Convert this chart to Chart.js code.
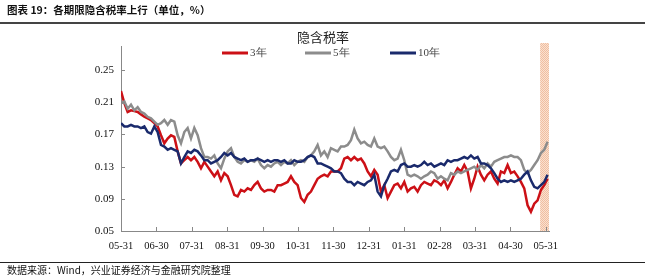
<!DOCTYPE html>
<html>
<head>
<meta charset="utf-8">
<script src="https://cdn.jsdelivr.net/npm/chart.js@4/dist/chart.umd.min.js"></script>
<style>
  html, body { margin: 0; padding: 0; background: #fff; }
  #wrap { position: relative; width: 645px; height: 277px; overflow: hidden; background: #fff; }
  #c { position: absolute; left: 0; top: 0; }
  #hdr { position: absolute; left: 7px; top: 2px; font: bold 10.5px "Noto Sans CJK SC", sans-serif; color: #111; white-space: nowrap; line-height: 15px; }
  #hdrLine { position: absolute; left: 0; top: 22px; width: 645px; height: 0; border-top: 2px solid #444; }
  #ftrLine { position: absolute; left: 0; top: 262px; width: 645px; height: 0; border-top: 1px solid #222; }
  #ftr { position: absolute; left: 7px; top: 263px; font: 10px "Noto Sans CJK SC", sans-serif; color: #111; white-space: nowrap; line-height: 13px; }
</style>
</head>
<body>
<div id="wrap">
  <canvas id="c" width="645" height="277"></canvas>
  <div id="hdr">图表 19：各期限隐含税率上行（单位，%）</div>
  <div id="hdrLine"></div>
  <div id="ftrLine"></div>
  <div id="ftr">数据来源：Wind，兴业证券经济与金融研究院整理</div>
</div>
<script>
// ---- data ----
const chartTitle = "隐含税率";
const seriesNames = ["3年", "5年", "10年"];
const xTickLabels = ["05-31","06-30","07-31","08-31","09-30","10-31","11-30","12-31","01-31","02-28","03-31","04-30","05-31"];
const yTickValues = [0.05, 0.09, 0.13, 0.17, 0.21, 0.25];

const y3 = [
0.224,0.209,0.198,0.200,0.199,0.198,0.195,0.192,0.190,0.188,
0.184,0.180,0.169,0.159,0.165,0.169,0.167,0.149,0.134,0.138,
0.142,0.138,0.142,0.136,0.128,0.136,0.130,0.124,0.118,0.124,
0.113,0.122,0.118,0.107,0.095,0.093,0.101,0.099,0.103,0.101,
0.107,0.111,0.103,0.099,0.101,0.101,0.099,0.107,0.107,0.109,
0.111,0.118,0.111,0.107,0.091,0.086,0.095,0.099,0.107,0.115,
0.118,0.120,0.118,0.124,0.124,0.124,0.128,0.140,0.142,0.138,
0.142,0.138,0.140,0.134,0.124,0.118,0.126,0.120,0.099,0.107,
0.091,0.099,0.107,0.109,0.103,0.111,0.099,0.103,0.105,0.099,
0.107,0.111,0.109,0.107,0.113,0.111,0.107,0.113,0.103,0.111,
0.120,0.128,0.124,0.132,0.124,0.103,0.115,0.130,0.120,0.113,
0.120,0.124,0.115,0.109,0.124,0.122,0.132,0.122,0.124,0.118,
0.111,0.103,0.082,0.074,0.084,0.088,0.101,0.107,0.115];

const y5 = [
0.209,0.211,0.202,0.207,0.200,0.204,0.198,0.196,0.192,0.190,
0.186,0.182,0.184,0.188,0.182,0.188,0.186,0.169,0.159,0.173,
0.178,0.165,0.178,0.169,0.153,0.142,0.142,0.140,0.144,0.134,
0.128,0.140,0.149,0.153,0.142,0.136,0.134,0.138,0.136,0.138,
0.136,0.140,0.132,0.128,0.132,0.130,0.134,0.136,0.132,0.136,
0.134,0.138,0.132,0.136,0.138,0.136,0.142,0.144,0.149,0.157,
0.144,0.149,0.142,0.153,0.151,0.149,0.155,0.155,0.157,0.163,
0.176,0.165,0.159,0.161,0.157,0.155,0.165,0.155,0.153,0.155,
0.149,0.142,0.138,0.140,0.151,0.138,0.120,0.118,0.120,0.118,
0.115,0.118,0.120,0.124,0.122,0.115,0.118,0.115,0.113,0.122,
0.120,0.124,0.122,0.124,0.126,0.128,0.130,0.126,0.132,0.128,
0.134,0.130,0.136,0.138,0.140,0.142,0.142,0.144,0.142,0.142,
0.138,0.126,0.122,0.126,0.132,0.138,0.147,0.151,0.161];

const y10 = [
0.184,0.180,0.180,0.182,0.180,0.180,0.178,0.180,0.173,0.171,
0.180,0.173,0.157,0.155,0.151,0.153,0.151,0.149,0.134,0.142,
0.149,0.147,0.151,0.149,0.144,0.138,0.138,0.134,0.136,0.138,
0.142,0.147,0.144,0.147,0.142,0.140,0.138,0.140,0.136,0.138,
0.138,0.140,0.138,0.136,0.138,0.136,0.138,0.138,0.136,0.138,
0.134,0.134,0.138,0.136,0.136,0.138,0.142,0.144,0.142,0.134,
0.134,0.132,0.130,0.128,0.124,0.124,0.122,0.115,0.111,0.111,
0.107,0.111,0.109,0.107,0.111,0.113,0.120,0.099,0.093,0.107,
0.115,0.124,0.126,0.124,0.132,0.134,0.130,0.130,0.132,0.130,
0.132,0.136,0.132,0.134,0.130,0.132,0.134,0.132,0.138,0.136,
0.138,0.138,0.140,0.142,0.140,0.144,0.140,0.142,0.134,0.134,
0.132,0.128,0.122,0.115,0.111,0.113,0.111,0.113,0.111,0.113,
0.115,0.120,0.124,0.113,0.105,0.103,0.107,0.111,0.120];

// highlighted period (in axis month units)
const bandRange = [11.84, 12.09];

// ---- build ----
const xEnd = 12.05;
const xs = y3.map((_, i) => i * xEnd / (y3.length - 1));
const toPts = arr => arr.map((v, i) => ({ x: xs[i], y: v }));

const colors = ['#cc1016', '#8c8c8c', '#1a2a6c'];
const serif = '"Liberation Serif", "Times New Roman", serif';

function dotPattern(ctx) {
  const p = document.createElement('canvas');
  p.width = 2; p.height = 2;
  const pc = p.getContext('2d');
  pc.fillStyle = 'rgba(250, 225, 208, 1)';
  pc.fillRect(0, 0, 2, 2);
  pc.fillStyle = 'rgba(240, 190, 160, 1)';
  pc.fillRect(0, 0, 1, 1);
  pc.fillRect(1, 1, 1, 1);
  return ctx.createPattern(p, 'repeat');
}

const bandPlugin = {
  id: 'band',
  beforeDatasetsDraw(chart) {
    const { ctx, chartArea, scales } = chart;
    const x0 = scales.x.getPixelForValue(bandRange[0]);
    const x1 = scales.x.getPixelForValue(bandRange[1]);
    ctx.save();
    ctx.fillStyle = dotPattern(ctx);
    ctx.fillRect(x0, chartArea.top - 3, x1 - x0, chartArea.bottom - chartArea.top + 3);
    ctx.restore();
  }
};

const tickPlugin = {
  id: 'innerTicks',
  afterDraw(chart) {
    const { ctx, chartArea, scales } = chart;
    ctx.save();
    ctx.strokeStyle = '#888';
    ctx.lineWidth = 1;
    ctx.beginPath();
    yTickValues.forEach(v => {
      const y = Math.round(scales.y.getPixelForValue(v)) + 0.5;
      ctx.moveTo(chartArea.left, y);
      ctx.lineTo(chartArea.left + 4, y);
    });
    xTickLabels.forEach((_, i) => {
      if (i === 0) return;
      const x = Math.round(scales.x.getPixelForValue(i)) + 0.5;
      ctx.moveTo(x, chartArea.bottom);
      ctx.lineTo(x, chartArea.bottom - 4);
    });
    ctx.stroke();
    ctx.restore();
  }
};

const titleLegendPlugin = {
  id: 'titleLegend',
  afterDraw(chart) {
    const { ctx } = chart;
    ctx.save();
    // chart title
    ctx.font = '13px "Noto Sans CJK SC", sans-serif';
    ctx.fillStyle = '#222';
    ctx.textAlign = 'center';
    ctx.textBaseline = 'middle';
    ctx.fillText(chartTitle, 323, 37);
    // legend
    const starts = [222, 305, 390];
    const y = 53;
    ctx.font = '11px ' + serif;
    ctx.textAlign = 'left';
    chart.data.datasets.forEach((ds, i) => {
      const x = starts[i];
      ctx.strokeStyle = ds.borderColor;
      ctx.lineWidth = 3;
      ctx.beginPath();
      ctx.moveTo(x, y);
      ctx.lineTo(x + 26, y);
      ctx.stroke();
      ctx.fillStyle = '#444';
      ctx.fillText(ds.label, x + 28, y);
    });
    ctx.restore();
  }
};

new Chart(document.getElementById('c'), {
  type: 'line',
  data: {
    datasets: [
      { label: seriesNames[0], data: toPts(y3), borderColor: colors[0], backgroundColor: colors[0], borderWidth: 2.5, pointRadius: 0, order: 2 },
      { label: seriesNames[1], data: toPts(y5), borderColor: colors[1], backgroundColor: colors[1], borderWidth: 2.5, pointRadius: 0, order: 1 },
      { label: seriesNames[2], data: toPts(y10), borderColor: colors[2], backgroundColor: colors[2], borderWidth: 2.5, pointRadius: 0, order: 0 }
    ]
  },
  options: {
    responsive: false,
    animation: false,
    layout: { padding: { left: 0, right: 96, top: 46, bottom: 0 } },
    plugins: {
      legend: { display: false },
      tooltip: { enabled: false },
      title: { display: false }
    },
    scales: {
      x: {
        type: 'linear',
        min: 0,
        max: 12.09,
        grid: { display: false, drawTicks: false },
        border: { display: true, color: '#888', width: 1 },
        afterBuildTicks: s => { s.ticks = xTickLabels.map((_, i) => ({ value: i })); },
        afterFit: s => { s.height = 46; },
        ticks: {
          autoSkip: false, maxRotation: 0, padding: 9, color: '#111',
          font: { family: serif, size: 10.5 },
          callback: v => xTickLabels[Math.round(v)]
        }
      },
      y: {
        min: 0.05,
        max: 0.28,
        grid: { display: false, drawTicks: false },
        border: { display: true, color: '#888', width: 1 },
        afterBuildTicks: s => { s.ticks = yTickValues.map(v => ({ value: v })); },
        afterFit: s => { s.width = 121; },
        ticks: {
          padding: 7, color: '#111',
          font: { family: serif, size: 11 },
          callback: v => v.toFixed(2)
        }
      }
    }
  },
  plugins: [bandPlugin, tickPlugin, titleLegendPlugin]
});
</script>
</body>
</html>
